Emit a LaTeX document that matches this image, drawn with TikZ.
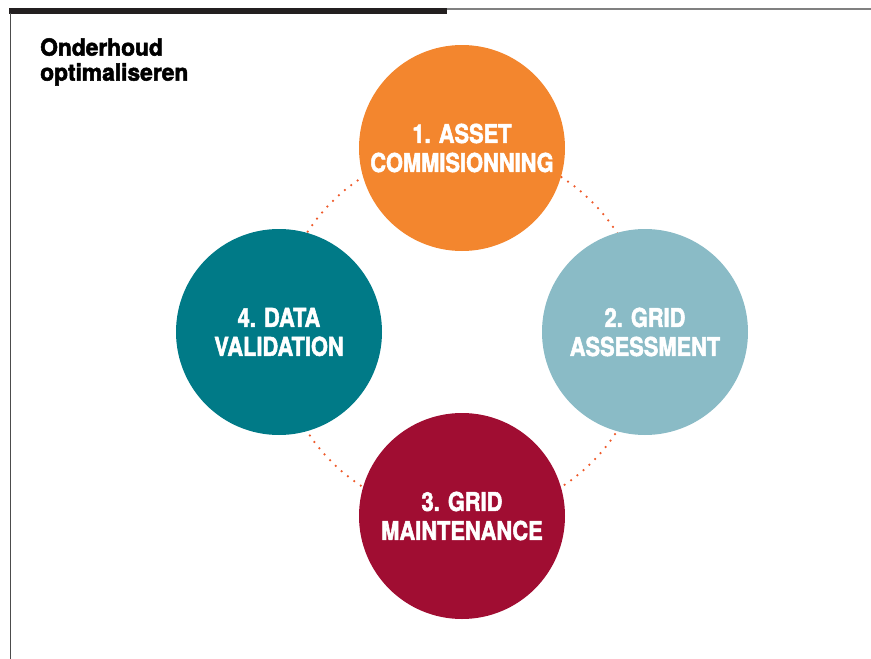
\documentclass[tikz,border=0pt]{standalone}
\usepackage{fontspec}
\usepackage{xcolor}
\usepackage{tikz}
\usetikzlibrary{calc,positioning}
\newfontfamily\titlefont[FakeStretch=0.97,FakeBold=2.2]{TeX Gyre Heros}
\newfontfamily\circfont[FakeStretch=0.84,FakeBold=2]{TeX Gyre Heros}
\definecolor{Asset}{HTML}{F3862E}
\definecolor{Assess}{HTML}{8ABBC6}
\definecolor{Maint}{HTML}{A00D32}
\definecolor{Valid}{HTML}{007A87}
\definecolor{Dots}{HTML}{EE5A2A}
\definecolor{Bar}{HTML}{231F20}
\tikzset{
  stage/.style={circle, minimum size=206pt, inner sep=0pt, text=white, align=center, font={\circfont\bfseries\fontsize{26}{29}\selectfont}},
  title/.style={inner sep=0pt, align=left, font={\titlefont\bfseries\fontsize{23.5}{25}\selectfont}},
  dotline/.style={draw=Dots, line width=2.5pt, line cap=round, dash pattern=on 0pt off 8pt},
  frame/.style={draw=black!70, line width=1.2pt}
}

\begin{document}
\begin{tikzpicture}[x=1pt,y=-1pt]
    \useasboundingbox (0,0) rectangle (871,659);
    % frame lines
    \fill [Bar] (9,8) rectangle (447,13.5);
    \draw [draw=gray, line width=1.3pt] (447,9) -- (871,9);
    \draw [frame] (10.5,13) -- (10.5,659);
    \node [title, anchor=north west] (head) at (40,38) {Onderhoud\\optimaliseren};
    % cycle
    \coordinate (mid) at (462,332);
    \draw [dotline] (mid) circle [radius=184pt];
    \node [stage, fill=Asset] (asset) at ($(mid)+(0,-184)$) {1. ASSET\\COMMISIONNING};
    \node [stage, fill=Assess] (assess) at ($(mid)+(183,0)$) {2. GRID\\ASSESSMENT};
    \node [stage, fill=Maint] (maint) at ($(mid)+(0,184)$) {3. GRID\\MAINTENANCE};
    \node [stage, fill=Valid] (valid) at ($(mid)+(-183,0)$) {4. DATA\\VALIDATION};
\end{tikzpicture}
\end{document}
